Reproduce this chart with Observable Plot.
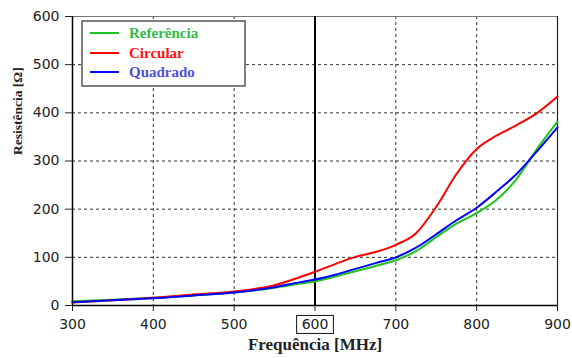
<!DOCTYPE html>
<html><head><meta charset="utf-8">
<script src="https://cdn.jsdelivr.net/npm/d3@7"></script>
<script src="https://cdn.jsdelivr.net/npm/@observablehq/plot@0.6"></script>
<style>
html,body{margin:0;padding:0;background:#fff;}
</style>
</head><body>
<div id="chart"></div>
<script>
const freq = [300,350,400,450,500,550,580,600,625,650,675,700,725,750,775,800,825,850,875,900];
const referencia = [9,12,16,21,27,37,45,50,60,71,82,94,113,142,170,192,220,264,326,382];
const circular   = [6,11,16,23,29,42,58,70,86,101,111,126,150,205,273,325,353,375,400,434];
const quadrado   = [7,11,15,21,27,38,48,54,64,76,88,100,120,148,177,203,237,274,321,370];
const seriesNames = ["Referência","Circular","Quadrado"];
const seriesValues = [referencia, circular, quadrado];
const lineColors = ["#1ec41e","#ff0000","#0000ff"];
const legendTextColors = ["#33bb44","#ff1010","#5050d8"];
const xTicks = [300,400,500,600,700,800,900];
const yTicks = [0,100,200,300,400,500,600];
const xDashedGrid = [400,500,700,800];
const yDashedGrid = [100,200,300,400,500];
const markerX = [600];
const xLabel = "Frequência [MHz]";
const yLabel = "Resistência [Ω]";

const data = [];
seriesNames.forEach((s, k) => freq.forEach((f, i) => data.push({series: s, f, r: seriesValues[k][i]})));

const serif = "'Liberation Serif', 'Times New Roman', serif";
const chart = Plot.plot({
  width: 572, height: 358,
  marginLeft: 72, marginRight: 15, marginTop: 16, marginBottom: 53,
  style: {fontFamily: "'DejaVu Sans', Verdana, sans-serif", fontSize: "14px", color: "#222", background: "#fff"},
  x: {domain: [300, 900]},
  y: {domain: [0, 600]},
  color: {domain: seriesNames, range: lineColors},
  marks: [
    Plot.ruleX(xDashedGrid, {stroke: "#333", strokeDasharray: "3,3", strokeWidth: 1}),
    Plot.ruleY(yDashedGrid, {stroke: "#333", strokeDasharray: "3,3", strokeWidth: 1}),
    Plot.ruleY([600], {stroke: "#777", strokeWidth: 1.2}),
    Plot.ruleX([900], {stroke: "#222", strokeWidth: 1.2}),
    Plot.ruleX(markerX, {stroke: "#000", strokeWidth: 2}),
    Plot.line(data, {x: "f", y: "r", z: "series", stroke: "series", strokeWidth: 2, curve: "monotone-x"}),
    Plot.ruleX([300], {stroke: "#000", strokeWidth: 1.5}),
    Plot.ruleY([0], {stroke: "#000", strokeWidth: 1.5}),
    Plot.axisX({ticks: xTicks, tickSize: 6, tickPadding: 8, label: null, tickFormat: d => String(d)}),
    Plot.axisY({ticks: yTicks, tickSize: 7, tickPadding: 6, label: null, tickFormat: d => String(d)}),
    Plot.text([xLabel], {frameAnchor: "bottom", dy: 44, fontFamily: serif, fontWeight: "bold", fontSize: 17, fill: "#222"}),
    Plot.text([yLabel], {frameAnchor: "left", rotate: -90, dx: -55, dy: -6, fontFamily: serif, fontWeight: "bold", fontSize: 13.5, fill: "#222"})
  ]
});
document.getElementById("chart").appendChild(chart);

const svg = d3.select(chart);
// box around the 600 tick label
svg.selectAll("g[aria-label='x-axis tick label'] text").each(function(){
  if (this.textContent.trim() === "600") {
    const b = this.getBBox();
    const g = d3.select(this.parentNode);
    const t = this.getAttribute("transform");
    g.insert("rect", "text")
      .attr("transform", t)
      .attr("x", b.x - 5).attr("y", b.y - 1)
      .attr("width", b.width + 10).attr("height", b.height + 2)
      .attr("fill", "none").attr("stroke", "#111").attr("stroke-width", 1);
  }
});
// legend
const lg = svg.append("g").attr("text-anchor", "start");
lg.append("rect").attr("x", 82).attr("y", 21).attr("width", 163).attr("height", 65)
  .attr("fill", "#fff").attr("stroke", "#555").attr("stroke-width", 1.5);
const rowsY = [33, 53, 72];
seriesNames.forEach((s, i) => {
  lg.append("line").attr("x1", 90).attr("x2", 119).attr("y1", rowsY[i]).attr("y2", rowsY[i])
    .attr("stroke", lineColors[i]).attr("stroke-width", 2);
  lg.append("text").attr("x", 129).attr("y", rowsY[i]).attr("dy", "0.35em")
    .attr("text-anchor", "start")
    .attr("font-family", serif).attr("font-weight", "bold").attr("font-size", 15)
    .attr("fill", legendTextColors[i]).text(s);
});
</script>
</body></html>
